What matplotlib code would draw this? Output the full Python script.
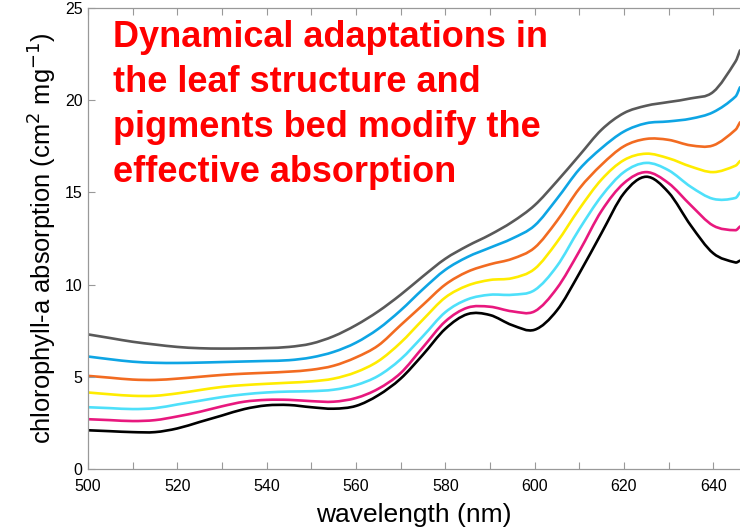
import matplotlib
matplotlib.use("Agg")
import matplotlib.pyplot as plt
from matplotlib.path import Path
from matplotlib.patches import PathPatch

plt.rcParams['font.family'] = ['Liberation Sans', 'DejaVu Sans']

wavelength = [500, 505, 510, 515, 520, 525, 530, 535, 540, 545, 550, 555, 560, 565,
              570, 575, 580, 585, 590, 595, 600, 605, 610, 615, 620, 625, 630, 635,
              640, 645, 646]

black = [2.1, 2.05, 2.0, 2.0, 2.2, 2.55, 2.9, 3.25, 3.45, 3.47, 3.35, 3.27, 3.42, 4.0,
         4.9, 6.2, 7.6, 8.4, 8.35, 7.8, 7.55, 8.6, 10.6, 12.8, 14.95, 15.85, 15.0, 13.2,
         11.7, 11.2, 11.3]
magenta = [2.7, 2.65, 2.6, 2.65, 2.85, 3.1, 3.4, 3.65, 3.75, 3.75, 3.68, 3.65, 3.85, 4.35,
           5.2, 6.6, 8.0, 8.75, 8.8, 8.55, 8.55, 9.8, 11.8, 14.0, 15.5, 16.1, 15.5, 14.3,
           13.2, 12.95, 13.15]
cyan = [3.35, 3.3, 3.25, 3.3, 3.5, 3.7, 3.9, 4.05, 4.15, 4.2, 4.22, 4.3, 4.55, 5.05,
        5.95, 7.2, 8.5, 9.2, 9.45, 9.45, 9.7, 11.0, 13.0, 14.8, 16.1, 16.6, 16.2, 15.3,
        14.65, 14.7, 15.0]
yellow = [4.15, 4.05, 3.97, 3.97, 4.1, 4.28, 4.45, 4.55, 4.62, 4.68, 4.75, 4.9, 5.25, 5.85,
          6.85, 8.1, 9.3, 9.95, 10.25, 10.35, 10.85, 12.3, 14.1, 15.7, 16.75, 17.1, 16.85, 16.4,
          16.1, 16.45, 16.7]
orange = [5.05, 4.95, 4.85, 4.83, 4.9, 5.0, 5.1, 5.17, 5.22, 5.28, 5.38, 5.6, 6.05, 6.7,
          7.8, 8.9, 10.0, 10.7, 11.1, 11.4, 12.0, 13.45, 15.2, 16.5, 17.5, 17.9, 17.85, 17.55,
          17.55, 18.4, 18.8]
blue = [6.1, 5.95, 5.82, 5.76, 5.75, 5.77, 5.8, 5.83, 5.86, 5.9, 6.05, 6.35, 6.85, 7.6,
        8.6, 9.75, 10.8, 11.5, 12.0, 12.5, 13.2, 14.65, 16.25, 17.4, 18.3, 18.75, 18.85, 19.0,
        19.35, 20.2, 20.7]
gray = [7.3, 7.1, 6.9, 6.75, 6.62, 6.55, 6.53, 6.54, 6.56, 6.62, 6.8, 7.2, 7.8, 8.55,
        9.45, 10.45, 11.4, 12.1, 12.7, 13.4, 14.3, 15.6, 17.0, 18.4, 19.3, 19.7, 19.9, 20.1,
        20.45, 22.1, 22.7]

series = [black, magenta, cyan, yellow, orange, blue, gray]
colors = ['#000000', '#e8187e', '#4ee0fa', '#ffec00', '#f26b21', '#0ea5e4', '#595959']

xticks = [500, 520, 540, 560, 580, 600, 620, 640]
yticks = [0, 5, 10, 15, 20, 25]

title_lines = ["Dynamical adaptations in",
               "the leaf structure and",
               "pigments bed modify the",
               "effective absorption"]


def smooth_path(xs, ys):
    """Bezier path through every read point (Hermite tangents)."""
    n = len(xs)
    m = []
    for i in range(n):
        if i == 0:
            m.append((ys[1] - ys[0]) / (xs[1] - xs[0]))
        elif i == n - 1:
            m.append((ys[-1] - ys[-2]) / (xs[-1] - xs[-2]))
        else:
            m.append((ys[i + 1] - ys[i - 1]) / (xs[i + 1] - xs[i - 1]))
    verts = [(xs[0], ys[0])]
    codes = [Path.MOVETO]
    for i in range(n - 1):
        h = xs[i + 1] - xs[i]
        verts += [(xs[i] + h / 3, ys[i] + m[i] * h / 3),
                  (xs[i + 1] - h / 3, ys[i + 1] - m[i + 1] * h / 3),
                  (xs[i + 1], ys[i + 1])]
        codes += [Path.CURVE4] * 3
    return Path(verts, codes)


fig = plt.figure(figsize=(7.40, 5.31), dpi=100)
W, H = 740, 531
ax = fig.add_axes([88 / W, (H - 469) / H, (740 - 88) / W, (469 - 8) / H])

for ys, c in zip(series, colors):
    ax.add_patch(PathPatch(smooth_path(wavelength, ys), facecolor='none', edgecolor=c,
                           lw=1.9, capstyle='round', joinstyle='round'))

ax.set_xlim(500, 646)
ax.set_ylim(0, 25)
ax.set_xticks(xticks)
ax.set_xticks([510, 530, 550, 570, 590, 610, 630], minor=True)
ax.set_yticks(yticks)
ax.tick_params(axis='both', which='both', direction='in', colors='#999999',
               labelcolor='black', labelsize=11.5, top=True, right=False)
ax.tick_params(axis='both', which='major', length=5, width=0.8)
ax.tick_params(axis='x', which='minor', length=5, width=0.8)
ax.tick_params(axis='x', pad=7)
ax.tick_params(axis='y', pad=4)
for s in ['left', 'bottom', 'top']:
    ax.spines[s].set_color('#999999')
    ax.spines[s].set_linewidth(0.9)
ax.spines['right'].set_visible(False)

ax.set_xlabel('wavelength (nm)', fontsize=19, labelpad=7)
ax.set_ylabel('chlorophyll-a absorption (cm$^{2}$ mg$^{-1}$)', fontsize=18.4, labelpad=5)

baselines = [47.3, 92.5, 137.5, 182.0]
for line, b in zip(title_lines, baselines):
    fig.text(113 / W, 1 - b / H, line, color='#ff0000', fontsize=26,
             fontweight='bold', ha='left', va='baseline')

fig.savefig('out.png', dpi=100)
